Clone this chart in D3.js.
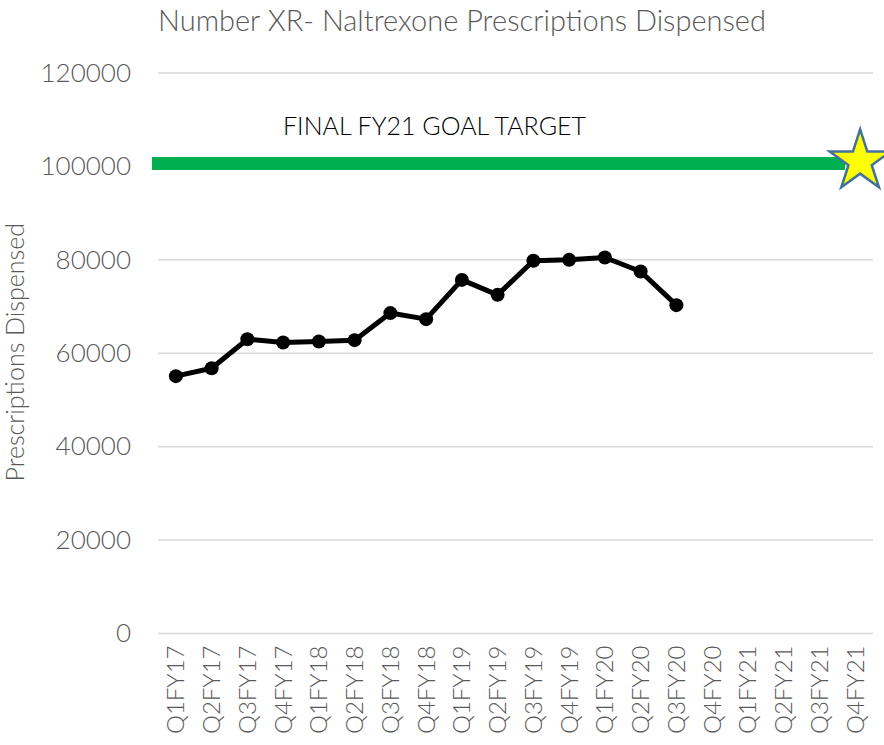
<!DOCTYPE html>
<html>
<head>
<meta charset="utf-8">
<script src="https://cdn.jsdelivr.net/npm/d3@7"></script>
<style>
  body { margin: 0; background: #fff; }
  svg text { font-family: Lato, "Open Sans", sans-serif; }
</style>
</head>
<body>
<script>

// quarters on the x axis
var quarters = ["Q1FY17","Q2FY17","Q3FY17","Q4FY17","Q1FY18","Q2FY18","Q3FY18","Q4FY18",
                "Q1FY19","Q2FY19","Q3FY19","Q4FY19","Q1FY20","Q2FY20","Q3FY20","Q4FY20",
                "Q1FY21","Q2FY21","Q3FY21","Q4FY21"];
// prescriptions dispensed
var dispensed = [55100, 56800, 63000, 62300, 62500, 62800, 68600, 67300,
                 75700, 72500, 79800, 80000, 80500, 77500, 70300];
var yTicks = [0, 20000, 40000, 60000, 80000, 100000, 120000];
var goalValue = 100000;
var goalLabel = "FINAL FY21 GOAL TARGET";
var goalQuarter = "Q4FY21";

var width = 884, height = 745;
var margin = {top: 73, right: 11, bottom: 111.5, left: 158};

var svg = d3.select("body").append("svg")
    .attr("width", width)
    .attr("height", height);

var x = d3.scaleBand()
    .domain(quarters)
    .range([margin.left, width - margin.right])
    .padding(0);

var y = d3.scaleLinear()
    .domain([0, 120000])
    .range([height - margin.bottom, margin.top]);

function cx(q) { return x(q) + x.bandwidth() / 2; }

// title
svg.append("text")
    .attr("x", 462)
    .attr("y", 31)
    .attr("text-anchor", "middle")
    .attr("fill", "#595959")
    .style("font-size", "29px")
    .style("font-weight", 300)
    .text("Number XR- Naltrexone Prescriptions Dispensed");

// gridlines
svg.append("g")
  .selectAll("line")
  .data(yTicks)
  .enter().append("line")
    .attr("x1", x.range()[0])
    .attr("x2", x.range()[1])
    .attr("y1", function(d) { return y(d); })
    .attr("y2", function(d) { return y(d); })
    .attr("stroke", "#d9d9d9")
    .attr("stroke-width", 1.5);

// y axis labels (no axis line, like the original)
var yAxis = svg.append("g")
    .attr("transform", "translate(" + (margin.left - 27) + ",0)")
    .call(d3.axisLeft(y).tickValues(yTicks).tickSize(0).tickPadding(0).tickFormat(d3.format("d")));
yAxis.select(".domain").remove();
yAxis.selectAll("text")
    .attr("fill", "#595959")
    .style("font-size", "26px")
    .style("font-weight", 300)
    .style("font-family", "Lato, sans-serif");

// y axis title
svg.append("text")
    .attr("transform", "translate(24," + (y(60000) - 1) + ") rotate(-90)")
    .attr("text-anchor", "middle")
    .attr("fill", "#595959")
    .style("font-size", "25px")
    .style("font-weight", 300)
    .text("Prescriptions Dispensed");

// x axis labels, rotated
var xAxis = svg.append("g")
    .attr("transform", "translate(0," + (height - margin.bottom + 12) + ")")
    .call(d3.axisBottom(x).tickSize(0).tickPadding(0));
xAxis.select(".domain").remove();
xAxis.selectAll("text")
    .attr("transform", "rotate(-90)")
    .attr("text-anchor", "end")
    .attr("dy", "0.35em")
    .attr("x", 0)
    .attr("y", 0)
    .attr("fill", "#595959")
    .style("font-size", "24px")
    .style("font-weight", 300)
    .style("font-family", "Lato, sans-serif");

// goal line
svg.append("line")
    .attr("x1", margin.left - 6)
    .attr("x2", cx(goalQuarter) - 10)
    .attr("y1", y(goalValue) - 3)
    .attr("y2", y(goalValue) - 3)
    .attr("stroke", "#00b050")
    .attr("stroke-width", 13);

svg.append("text")
    .attr("x", 283)
    .attr("y", 135)
    .attr("fill", "#000")
    .style("font-size", "25px")
    .style("font-weight", 300)
    .text(goalLabel);

// star marking the goal
var star = d3.symbol().type(d3.symbolStar).size(1150);
svg.append("path")
    .attr("d", star())
    .attr("transform", "translate(" + (cx(goalQuarter) + 5) + "," + (y(goalValue) - 5) + ")")
    .attr("fill", "#ffff00")
    .attr("stroke", "#41719c")
    .attr("stroke-width", 2.5)
    .attr("stroke-linejoin", "miter");

// data line
var line = d3.line()
    .x(function(d, i) { return cx(quarters[i]); })
    .y(function(d) { return y(d); });

svg.append("path")
    .datum(dispensed)
    .attr("d", line)
    .attr("fill", "none")
    .attr("stroke", "#000")
    .attr("stroke-width", 5)
    .attr("stroke-linejoin", "round");

svg.selectAll(".dot")
    .data(dispensed)
  .enter().append("circle")
    .attr("class", "dot")
    .attr("cx", function(d, i) { return cx(quarters[i]); })
    .attr("cy", function(d) { return y(d); })
    .attr("r", 7)
    .attr("fill", "#000");

</script>
</body>
</html>
